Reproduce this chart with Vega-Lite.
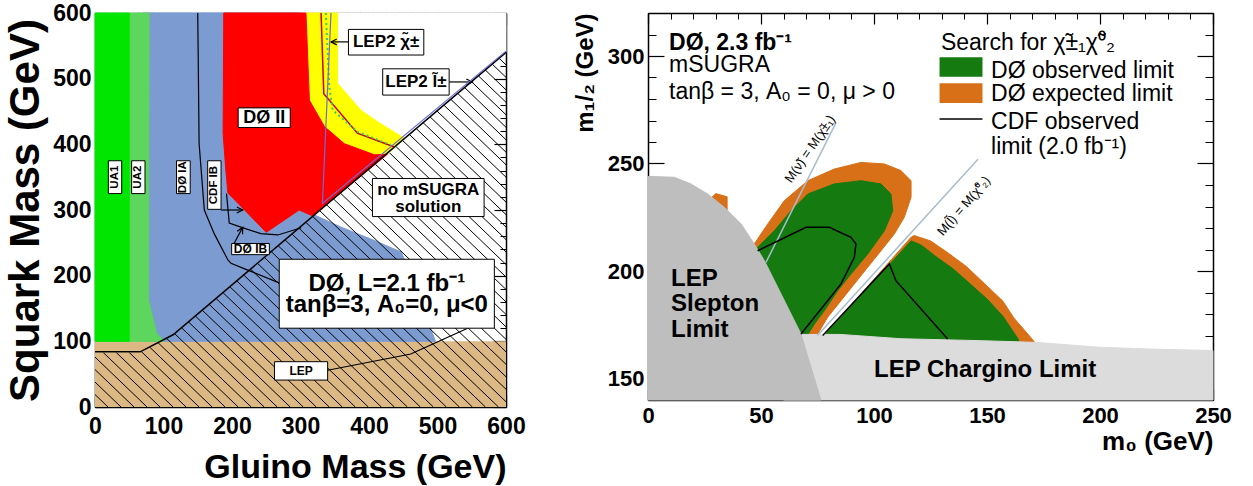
{
"$schema":"https://vega.github.io/schema/vega-lite/v6.json",
"padding":{"left":4,"top":2,"right":5,"bottom":5},
"background":"white",
"config":{"view":{"stroke":null},"axis":{"grid":false,"labelFont":"Liberation Sans","labelFontWeight":"bold","labelColor":"#000","titleFont":"Liberation Sans","titleFontWeight":"bold","titleColor":"#000","tickColor":"#000","domainColor":"#000","zindex":1,"labelOverlap":false,"labelFlush":false},"text":{"font":"Liberation Sans","color":"#000"}},
"datasets":{
"Lpoly":[
{"p":"blue","i":0,"x":70,"y":100},{"p":"blue","i":1,"x":70,"y":600},{"p":"blue","i":2,"x":300,"y":600},{"p":"blue","i":3,"x":300,"y":300},{"p":"blue","i":4,"x":315,"y":295},{"p":"blue","i":5,"x":359,"y":274},{"p":"blue","i":6,"x":407,"y":254},{"p":"blue","i":7,"x":447,"y":236},{"p":"blue","i":8,"x":470,"y":180},{"p":"blue","i":9,"x":490,"y":120},{"p":"blue","i":10,"x":497,"y":100},
{"p":"cover","i":0,"x":0,"y":84},{"p":"cover","i":1,"x":66,"y":84},{"p":"cover","i":2,"x":114,"y":110},{"p":"cover","i":3,"x":600,"y":540},{"p":"cover","i":4,"x":600,"y":600},{"p":"cover","i":5,"x":0,"y":600},
{"p":"tanstrip","i":0,"x":0,"y":84},{"p":"tanstrip","i":1,"x":66,"y":84},{"p":"tanstrip","i":2,"x":95.5,"y":100},{"p":"tanstrip","i":3,"x":0,"y":100},
{"p":"blueup","i":0,"x":70,"y":100},{"p":"blueup","i":1,"x":95.5,"y":100},{"p":"blueup","i":2,"x":114,"y":110},{"p":"blueup","i":3,"x":320,"y":292.6},{"p":"blueup","i":4,"x":315,"y":295},{"p":"blueup","i":5,"x":300,"y":300},{"p":"blueup","i":6,"x":300,"y":600},{"p":"blueup","i":7,"x":70,"y":600},
{"p":"lgreen","i":0,"x":50,"y":100},{"p":"lgreen","i":1,"x":50,"y":600},{"p":"lgreen","i":2,"x":79,"y":600},{"p":"lgreen","i":3,"x":78,"y":163},{"p":"lgreen","i":4,"x":90,"y":112},{"p":"lgreen","i":5,"x":97,"y":104.5},{"p":"lgreen","i":6,"x":101,"y":100},
{"p":"green","i":0,"x":0,"y":100},{"p":"green","i":1,"x":0,"y":600},{"p":"green","i":2,"x":50,"y":600},{"p":"green","i":3,"x":50,"y":100},
{"p":"yellow","i":0,"x":308,"y":600},{"p":"yellow","i":1,"x":354,"y":600},{"p":"yellow","i":2,"x":354,"y":493},{"p":"yellow","i":3,"x":388,"y":452},{"p":"yellow","i":4,"x":413,"y":434},{"p":"yellow","i":5,"x":452,"y":409},{"p":"yellow","i":6,"x":427,"y":385},{"p":"yellow","i":7,"x":408,"y":384},{"p":"yellow","i":8,"x":364,"y":401},{"p":"yellow","i":9,"x":335,"y":427},{"p":"yellow","i":10,"x":313,"y":467},
{"p":"red","i":0,"x":188,"y":600},{"p":"red","i":1,"x":308,"y":600},{"p":"red","i":2,"x":313,"y":467},{"p":"red","i":3,"x":335,"y":427},{"p":"red","i":4,"x":364,"y":401},{"p":"red","i":5,"x":408,"y":384},{"p":"red","i":6,"x":427,"y":385},{"p":"red","i":7,"x":318,"y":291},{"p":"red","i":8,"x":298,"y":300},{"p":"red","i":9,"x":250,"y":266},{"p":"red","i":10,"x":223,"y":295},{"p":"red","i":11,"x":194,"y":326},{"p":"red","i":12,"x":191,"y":361},{"p":"red","i":13,"x":187,"y":417}
],
"Lhatch":[
{"x":0,"y":19,"x2":19,"y2":0},{"x":0,"y":38,"x2":38,"y2":0},{"x":0,"y":57,"x2":57,"y2":0},{"x":0,"y":76,"x2":76,"y2":0},{"x":0,"y":95,"x2":95,"y2":0},{"x":0,"y":114,"x2":114,"y2":0},{"x":0,"y":133,"x2":133,"y2":0},{"x":0,"y":152,"x2":152,"y2":0},{"x":0,"y":171,"x2":171,"y2":0},{"x":0,"y":190,"x2":190,"y2":0},{"x":0,"y":209,"x2":209,"y2":0},{"x":0,"y":228,"x2":228,"y2":0},{"x":0,"y":247,"x2":247,"y2":0},{"x":0,"y":266,"x2":266,"y2":0},{"x":0,"y":285,"x2":285,"y2":0},{"x":0,"y":304,"x2":304,"y2":0},{"x":0,"y":323,"x2":323,"y2":0},{"x":0,"y":342,"x2":342,"y2":0},{"x":0,"y":361,"x2":361,"y2":0},{"x":0,"y":380,"x2":380,"y2":0},{"x":0,"y":399,"x2":399,"y2":0},{"x":0,"y":418,"x2":418,"y2":0},{"x":0,"y":437,"x2":437,"y2":0},{"x":0,"y":456,"x2":456,"y2":0},{"x":0,"y":475,"x2":475,"y2":0},{"x":0,"y":494,"x2":494,"y2":0},{"x":0,"y":513,"x2":513,"y2":0},{"x":0,"y":532,"x2":532,"y2":0},{"x":0,"y":551,"x2":551,"y2":0},{"x":0,"y":570,"x2":570,"y2":0},{"x":0,"y":589,"x2":589,"y2":0},
{"x":8,"y":600,"x2":600,"y2":8},{"x":27,"y":600,"x2":600,"y2":27},{"x":46,"y":600,"x2":600,"y2":46},{"x":65,"y":600,"x2":600,"y2":65},{"x":84,"y":600,"x2":600,"y2":84},{"x":103,"y":600,"x2":600,"y2":103},{"x":122,"y":600,"x2":600,"y2":122},{"x":141,"y":600,"x2":600,"y2":141},{"x":160,"y":600,"x2":600,"y2":160},{"x":179,"y":600,"x2":600,"y2":179},{"x":198,"y":600,"x2":600,"y2":198},{"x":217,"y":600,"x2":600,"y2":217},{"x":236,"y":600,"x2":600,"y2":236},{"x":255,"y":600,"x2":600,"y2":255},{"x":274,"y":600,"x2":600,"y2":274},{"x":293,"y":600,"x2":600,"y2":293},{"x":312,"y":600,"x2":600,"y2":312},{"x":331,"y":600,"x2":600,"y2":331},{"x":350,"y":600,"x2":600,"y2":350},{"x":369,"y":600,"x2":600,"y2":369},{"x":388,"y":600,"x2":600,"y2":388},{"x":407,"y":600,"x2":600,"y2":407},{"x":426,"y":600,"x2":600,"y2":426},{"x":445,"y":600,"x2":600,"y2":445},{"x":464,"y":600,"x2":600,"y2":464},{"x":483,"y":600,"x2":600,"y2":483},{"x":502,"y":600,"x2":600,"y2":502},{"x":521,"y":600,"x2":600,"y2":521},{"x":540,"y":600,"x2":600,"y2":540}
],
"Llines":[
{"l":"IA","i":0,"x":150,"y":600},{"l":"IA","i":1,"x":152,"y":401},{"l":"IA","i":2,"x":159.6,"y":300},{"l":"IA","i":3,"x":174,"y":264},{"l":"IA","i":4,"x":194,"y":224},{"l":"IA","i":5,"x":198.5,"y":219},{"l":"IA","i":6,"x":223,"y":208.5},{"l":"IA","i":7,"x":269,"y":189},
{"l":"IB","i":0,"x":192,"y":325},{"l":"IB","i":1,"x":196,"y":280},{"l":"IB","i":2,"x":213,"y":274},{"l":"IB","i":3,"x":242,"y":264},{"l":"IB","i":4,"x":267,"y":262},{"l":"IB","i":5,"x":301,"y":273},
{"l":"LEP","i":0,"x":339.6,"y":56},{"l":"LEP","i":1,"x":461,"y":80.7},{"l":"LEP","i":2,"x":544,"y":120},
{"l":"a1","i":0,"x":370,"y":556},{"l":"a1","i":1,"x":344.5,"y":556},
{"l":"a1b","i":0,"x":353,"y":560.5},{"l":"a1b","i":1,"x":344.5,"y":556},{"l":"a1b","i":2,"x":353,"y":551.5},
{"l":"a2","i":0,"x":517,"y":495},{"l":"a2","i":1,"x":551,"y":495},
{"l":"a2b","i":0,"x":542,"y":499.5},{"l":"a2b","i":1,"x":551,"y":495},{"l":"a2b","i":2,"x":542,"y":490.5},
{"l":"a3","i":0,"x":184,"y":300},{"l":"a3","i":1,"x":215.6,"y":300},
{"l":"a3b","i":0,"x":207,"y":304.5},{"l":"a3b","i":1,"x":215.6,"y":300},{"l":"a3b","i":2,"x":207,"y":295.5},
{"l":"a4","i":0,"x":203,"y":249},{"l":"a4","i":1,"x":215.6,"y":273.5},
{"l":"a4b","i":0,"x":215.4,"y":263.2},{"l":"a4b","i":1,"x":215.6,"y":273.5},{"l":"a4b","i":2,"x":207.6,"y":267.6}
],
"Lspecial":[
{"l":"bd","i":0,"x":0,"y":84},{"l":"bd","i":1,"x":66,"y":84},{"l":"bd","i":2,"x":114,"y":110},{"l":"bd","i":3,"x":600,"y":540},
{"l":"redline","i":0,"x":330,"y":600},{"l":"redline","i":1,"x":334,"y":477},{"l":"redline","i":2,"x":383,"y":417},{"l":"redline","i":3,"x":437,"y":396},
{"l":"gdot","i":0,"x":337,"y":600},{"l":"gdot","i":1,"x":342,"y":487.6},{"l":"gdot","i":2,"x":347,"y":452},{"l":"gdot","i":3,"x":383.5,"y":419},{"l":"gdot","i":4,"x":432,"y":399},
{"l":"purple","i":0,"x":344.5,"y":600},{"l":"purple","i":1,"x":332,"y":310},{"l":"purple","i":2,"x":600,"y":542}
],
"Rpoly":[
{"p":"oA","i":0,"x":47,"y":212.6},{"p":"oA","i":1,"x":53,"y":221.9},{"p":"oA","i":2,"x":60.3,"y":232.7},{"p":"oA","i":3,"x":70.7,"y":242},{"p":"oA","i":4,"x":82.4,"y":247.4},{"p":"oA","i":5,"x":94.2,"y":250.5},{"p":"oA","i":6,"x":104.6,"y":249.8},{"p":"oA","i":7,"x":111.9,"y":246.7},{"p":"oA","i":8,"x":116.4,"y":242},{"p":"oA","i":9,"x":116.4,"y":234.3},{"p":"oA","i":10,"x":113.4,"y":225},{"p":"oA","i":11,"x":109,"y":217.2},{"p":"oA","i":12,"x":103.1,"y":209.4},{"p":"oA","i":13,"x":97.2,"y":201.7},{"p":"oA","i":14,"x":91.3,"y":194},{"p":"oA","i":15,"x":85.4,"y":186.2},{"p":"oA","i":16,"x":79.5,"y":178.5},{"p":"oA","i":17,"x":75.1,"y":170.7},{"p":"oA","i":18,"x":60,"y":170},{"p":"oA","i":19,"x":50,"y":207},
{"p":"gA","i":0,"x":48.5,"y":211},{"p":"gA","i":1,"x":55.9,"y":218.7},{"p":"gA","i":2,"x":63.3,"y":228},{"p":"gA","i":3,"x":70.7,"y":235.8},{"p":"gA","i":4,"x":82.4,"y":240.5},{"p":"gA","i":5,"x":94.2,"y":242},{"p":"gA","i":6,"x":103.1,"y":240.5},{"p":"gA","i":7,"x":107.5,"y":235.8},{"p":"gA","i":8,"x":108.3,"y":228},{"p":"gA","i":9,"x":104.6,"y":218.7},{"p":"gA","i":10,"x":97.2,"y":207.9},{"p":"gA","i":11,"x":89.8,"y":198.6},{"p":"gA","i":12,"x":83.9,"y":190.8},{"p":"gA","i":13,"x":78,"y":181.5},{"p":"gA","i":14,"x":73.6,"y":175.3},{"p":"gA","i":15,"x":70.7,"y":170.5},{"p":"gA","i":16,"x":60,"y":170},{"p":"gA","i":17,"x":48,"y":205},
{"p":"oS","i":0,"x":27,"y":233},{"p":"oS","i":1,"x":30,"y":236},{"p":"oS","i":2,"x":35,"y":234.5},{"p":"oS","i":3,"x":35,"y":223},{"p":"oS","i":4,"x":32.5,"y":223},{"p":"oS","i":5,"x":27,"y":230},
{"p":"oB","i":0,"x":78,"y":170},{"p":"oB","i":1,"x":116.4,"y":215.7},{"p":"oB","i":2,"x":117.8,"y":216.5},{"p":"oB","i":3,"x":125,"y":214},{"p":"oB","i":4,"x":132,"y":209},{"p":"oB","i":5,"x":141,"y":202},{"p":"oB","i":6,"x":150,"y":193},{"p":"oB","i":7,"x":157,"y":186},{"p":"oB","i":8,"x":162,"y":178},{"p":"oB","i":9,"x":167,"y":172},{"p":"oB","i":10,"x":171,"y":167},{"p":"oB","i":11,"x":171,"y":160},{"p":"oB","i":12,"x":78,"y":160},
{"p":"gB","i":0,"x":78,"y":170},{"p":"gB","i":1,"x":116.4,"y":214},{"p":"gB","i":2,"x":121,"y":212},{"p":"gB","i":3,"x":127,"y":207},{"p":"gB","i":4,"x":135,"y":201},{"p":"gB","i":5,"x":142,"y":194.5},{"p":"gB","i":6,"x":150,"y":187},{"p":"gB","i":7,"x":157,"y":179},{"p":"gB","i":8,"x":164,"y":168},{"p":"gB","i":9,"x":164,"y":160},{"p":"gB","i":10,"x":78,"y":160},
{"p":"char","i":0,"x":60,"y":170.5},{"p":"char","i":1,"x":85,"y":170.5},{"p":"char","i":2,"x":112,"y":168.5},{"p":"char","i":3,"x":147,"y":167.6},{"p":"char","i":4,"x":172,"y":166.8},{"p":"char","i":5,"x":200,"y":164.5},{"p":"char","i":6,"x":222,"y":163.7},{"p":"char","i":7,"x":250,"y":163},{"p":"char","i":8,"x":250,"y":140},{"p":"char","i":9,"x":60,"y":140},
{"p":"slep","i":0,"x":0,"y":140},{"p":"slep","i":1,"x":0,"y":244},{"p":"slep","i":2,"x":11.6,"y":243.6},{"p":"slep","i":3,"x":19,"y":240.5},{"p":"slep","i":4,"x":26.4,"y":235.8},{"p":"slep","i":5,"x":33.8,"y":229.6},{"p":"slep","i":6,"x":41.2,"y":221.9},{"p":"slep","i":7,"x":47,"y":212.6},{"p":"slep","i":8,"x":51.5,"y":204.8},{"p":"slep","i":9,"x":57.4,"y":192.4},{"p":"slep","i":10,"x":63.3,"y":180},{"p":"slep","i":11,"x":67.7,"y":170.7},{"p":"slep","i":12,"x":72.1,"y":155.2},{"p":"slep","i":13,"x":76.5,"y":140}
],
"Rlines":[
{"l":"gb1","i":0,"x":83.2,"y":269},{"l":"gb1","i":1,"x":52.2,"y":204},
{"l":"gb2","i":0,"x":146,"y":252},{"l":"gb2","i":1,"x":75,"y":170},
{"l":"cA","i":0,"x":48.5,"y":209.4},{"l":"cA","i":1,"x":69.9,"y":220.3},{"l":"cA","i":2,"x":80.2,"y":220.3},{"l":"cA","i":3,"x":89.8,"y":215.7},{"l":"cA","i":4,"x":92,"y":212.6},{"l":"cA","i":5,"x":91.3,"y":206.4},{"l":"cA","i":6,"x":85.4,"y":194},{"l":"cA","i":7,"x":79.5,"y":186.2},{"l":"cA","i":8,"x":67.7,"y":170.7},
{"l":"cB","i":0,"x":77.3,"y":170},{"l":"cB","i":1,"x":106.8,"y":203.3},{"l":"cB","i":2,"x":109.7,"y":195.5},{"l":"cB","i":3,"x":132.6,"y":168.4}
]
},
"hconcat":[
{
"width":411,"height":394,
"resolve":{"axis":{"x":"independent","y":"independent"}},
"layer":[
{"data":{"values":[{"x":0,"x2":600,"y":0,"y2":100}]},"mark":{"type":"rect","fill":"#dcb884"},
 "encoding":{"x":{"field":"x","type":"quantitative","scale":{"domain":[0,600],"nice":false,"zero":false},"axis":{"orient":"bottom","values":[0,100,200,300,400,500,600],"ticks":false,"domain":false,"labelFontSize":23,"labelPadding":8,"title":"Gluino Mass (GeV)","titleFontSize":34,"titleAnchor":"end","titlePadding":12}},"x2":{"field":"x2"},
 "y":{"field":"y","type":"quantitative","scale":{"domain":[0,600],"nice":false,"zero":false},"axis":{"orient":"left","values":[0,100,200,300,400,500,600],"ticks":false,"domain":false,"labelFontSize":23,"labelPadding":4,"title":"Squark Mass (GeV)","titleFontSize":42,"titlePadding":5}},"y2":{"field":"y2"}}},
{"data":{"name":"Lpoly"},"transform":[{"filter":"datum.p=='blue'"}],"mark":{"type":"line","fill":"#7b9bd1","stroke":"#7b9bd1","strokeWidth":1,"interpolate":"linear-closed"},
 "encoding":{"x":{"field":"x","type":"quantitative","scale":{"domain":[0,600],"nice":false,"zero":false},"axis":{"orient":"bottom","values":[0,100,200,300,400,500,600],"labels":false,"title":null,"tickSize":-12,"tickWidth":1.2,"domainWidth":1.5}},
 "y":{"field":"y","type":"quantitative","scale":{"domain":[0,600],"nice":false,"zero":false},"axis":{"orient":"left","values":[0,100,200,300,400,500,600],"labels":false,"title":null,"tickSize":-12,"tickWidth":1.2,"domainWidth":1.5}},"order":{"field":"i","type":"quantitative"}}},
{"data":{"name":"Lhatch"},"mark":{"type":"rule","color":"#000","strokeWidth":1},
 "encoding":{"x":{"field":"x","type":"quantitative","scale":{"domain":[0,600],"nice":false,"zero":false},"axis":{"orient":"bottom","values":[0,20,40,60,80,100,120,140,160,180,200,220,240,260,280,300,320,340,360,380,400,420,440,460,480,500,520,540,560,580,600],"labels":false,"title":null,"tickSize":-6,"tickWidth":1,"domain":false}},"x2":{"field":"x2"},
 "y":{"field":"y","type":"quantitative","scale":{"domain":[0,600],"nice":false,"zero":false},"axis":{"orient":"left","values":[0,20,40,60,80,100,120,140,160,180,200,220,240,260,280,300,320,340,360,380,400,420,440,460,480,500,520,540,560,580,600],"labels":false,"title":null,"tickSize":-6,"tickWidth":1,"domain":false}},"y2":{"field":"y2"}}},
{"data":{"name":"Lpoly"},"transform":[{"filter":"datum.p=='cover'"}],"mark":{"type":"line","fill":"#ffffff","stroke":"#ffffff","strokeWidth":1,"interpolate":"linear-closed"},
 "encoding":{"x":{"field":"x","type":"quantitative","scale":{"domain":[0,600],"nice":false,"zero":false},"axis":{"orient":"top","values":[0,100,200,300,400,500,600],"labels":false,"title":null,"tickSize":-12,"tickWidth":1.2,"domainWidth":1.5}},
 "y":{"field":"y","type":"quantitative","scale":{"domain":[0,600],"nice":false,"zero":false},"axis":{"orient":"right","values":[0,100,200,300,400,500,600],"labels":false,"title":null,"tickSize":-12,"tickWidth":1.2,"domainWidth":1.5}},"order":{"field":"i","type":"quantitative"}}},
{"data":{"name":"Lpoly"},"transform":[{"filter":"datum.p=='tanstrip'"}],"mark":{"type":"line","fill":"#dcb884","stroke":"#dcb884","strokeWidth":1,"interpolate":"linear-closed"},
 "encoding":{"x":{"field":"x","type":"quantitative","scale":{"domain":[0,600],"nice":false,"zero":false},"axis":{"orient":"top","values":[0,20,40,60,80,100,120,140,160,180,200,220,240,260,280,300,320,340,360,380,400,420,440,460,480,500,520,540,560,580,600],"labels":false,"title":null,"tickSize":-6,"tickWidth":1,"domain":false}},
 "y":{"field":"y","type":"quantitative","scale":{"domain":[0,600],"nice":false,"zero":false},"axis":{"orient":"right","values":[0,20,40,60,80,100,120,140,160,180,200,220,240,260,280,300,320,340,360,380,400,420,440,460,480,500,520,540,560,580,600],"labels":false,"title":null,"tickSize":-6,"tickWidth":1,"domain":false}},"order":{"field":"i","type":"quantitative"}}},
{"data":{"name":"Lpoly"},"transform":[{"filter":"datum.p=='blueup'"}],"mark":{"type":"line","fill":"#7b9bd1","stroke":"#7b9bd1","strokeWidth":1,"interpolate":"linear-closed"},
 "encoding":{"x":{"field":"x","type":"quantitative","scale":{"domain":[0,600],"nice":false,"zero":false},"axis":null},"y":{"field":"y","type":"quantitative","scale":{"domain":[0,600],"nice":false,"zero":false},"axis":null},"order":{"field":"i","type":"quantitative"}}},
{"data":{"name":"Lpoly"},"transform":[{"filter":"datum.p=='lgreen'"}],"mark":{"type":"line","fill":"#5cd65c","stroke":"#5cd65c","strokeWidth":1,"interpolate":"linear-closed"},
 "encoding":{"x":{"field":"x","type":"quantitative","scale":{"domain":[0,600],"nice":false,"zero":false},"axis":null},"y":{"field":"y","type":"quantitative","scale":{"domain":[0,600],"nice":false,"zero":false},"axis":null},"order":{"field":"i","type":"quantitative"}}},
{"data":{"name":"Lpoly"},"transform":[{"filter":"datum.p=='green'"}],"mark":{"type":"line","fill":"#00e600","stroke":"#00e600","strokeWidth":1,"interpolate":"linear-closed"},
 "encoding":{"x":{"field":"x","type":"quantitative","scale":{"domain":[0,600],"nice":false,"zero":false},"axis":null},"y":{"field":"y","type":"quantitative","scale":{"domain":[0,600],"nice":false,"zero":false},"axis":null},"order":{"field":"i","type":"quantitative"}}},
{"data":{"name":"Lpoly"},"transform":[{"filter":"datum.p=='yellow'"}],"mark":{"type":"line","fill":"#ffff00","stroke":"#ffff00","strokeWidth":1,"interpolate":"linear-closed"},
 "encoding":{"x":{"field":"x","type":"quantitative","scale":{"domain":[0,600],"nice":false,"zero":false},"axis":null},"y":{"field":"y","type":"quantitative","scale":{"domain":[0,600],"nice":false,"zero":false},"axis":null},"order":{"field":"i","type":"quantitative"}}},
{"data":{"name":"Lpoly"},"transform":[{"filter":"datum.p=='red'"}],"mark":{"type":"line","fill":"#ff0000","stroke":"#ff0000","strokeWidth":1,"interpolate":"linear-closed"},
 "encoding":{"x":{"field":"x","type":"quantitative","scale":{"domain":[0,600],"nice":false,"zero":false},"axis":null},"y":{"field":"y","type":"quantitative","scale":{"domain":[0,600],"nice":false,"zero":false},"axis":null},"order":{"field":"i","type":"quantitative"}}},
{"data":{"name":"Llines"},"mark":{"type":"line","color":"#000","strokeWidth":1.2},
 "encoding":{"x":{"field":"x","type":"quantitative","scale":{"domain":[0,600],"nice":false,"zero":false},"axis":null},"y":{"field":"y","type":"quantitative","scale":{"domain":[0,600],"nice":false,"zero":false},"axis":null},"detail":{"field":"l"},"order":{"field":"i","type":"quantitative"}}},
{"data":{"name":"Lspecial"},"transform":[{"filter":"datum.l=='bd'"}],"mark":{"type":"line","color":"#000","strokeWidth":1.5},
 "encoding":{"x":{"field":"x","type":"quantitative","scale":{"domain":[0,600],"nice":false,"zero":false},"axis":null},"y":{"field":"y","type":"quantitative","scale":{"domain":[0,600],"nice":false,"zero":false},"axis":null},"order":{"field":"i","type":"quantitative"}}},
{"data":{"name":"Lspecial"},"transform":[{"filter":"datum.l=='redline'"}],"mark":{"type":"line","color":"#c80000","strokeWidth":1.5},
 "encoding":{"x":{"field":"x","type":"quantitative","scale":{"domain":[0,600],"nice":false,"zero":false},"axis":null},"y":{"field":"y","type":"quantitative","scale":{"domain":[0,600],"nice":false,"zero":false},"axis":null},"order":{"field":"i","type":"quantitative"}}},
{"data":{"name":"Lspecial"},"transform":[{"filter":"datum.l=='gdot'"}],"mark":{"type":"line","color":"#3cc878","strokeWidth":2,"strokeDash":[2,3]},
 "encoding":{"x":{"field":"x","type":"quantitative","scale":{"domain":[0,600],"nice":false,"zero":false},"axis":null},"y":{"field":"y","type":"quantitative","scale":{"domain":[0,600],"nice":false,"zero":false},"axis":null},"order":{"field":"i","type":"quantitative"}}},
{"data":{"name":"Lspecial"},"transform":[{"filter":"datum.l=='purple'"}],"mark":{"type":"line","color":"#6b6bdb","strokeWidth":1.2},
 "encoding":{"x":{"field":"x","type":"quantitative","scale":{"domain":[0,600],"nice":false,"zero":false},"axis":null},"y":{"field":"y","type":"quantitative","scale":{"domain":[0,600],"nice":false,"zero":false},"axis":null},"order":{"field":"i","type":"quantitative"}}},
{"data":{"values":[
 {"b":"UA1","x":19.5,"x2":39,"y":325,"y2":375},{"b":"UA2","x":53.5,"x2":73,"y":325,"y2":375},{"b":"IA","x":119,"x2":139,"y":325,"y2":375},{"b":"CDFIB","x":164.5,"x2":184,"y":301,"y2":375},{"b":"IB","x":199.5,"x2":254.5,"y":232,"y2":249},{"b":"II","x":209,"x2":285,"y":425.6,"y2":455.5},{"b":"LEP2c","x":370,"x2":480,"y":536,"y2":575},{"b":"LEP2l","x":420,"x2":517,"y":475,"y2":515},{"b":"nomsugra","x":405,"x2":568,"y":290,"y2":348},{"b":"big","x":269,"x2":583,"y":120,"y2":225},{"b":"LEP","x":262,"x2":339.6,"y":41,"y2":69}]},
 "mark":{"type":"rect","fill":"#ffffff","stroke":"#000","strokeWidth":1},
 "encoding":{"x":{"field":"x","type":"quantitative","scale":{"domain":[0,600],"nice":false,"zero":false},"axis":null},"x2":{"field":"x2"},"y":{"field":"y","type":"quantitative","scale":{"domain":[0,600],"nice":false,"zero":false},"axis":null},"y2":{"field":"y2"}}},
{"data":{"values":[{"t":"UA1","x":29.25,"y":350},{"t":"UA2","x":63.25,"y":350},{"t":"DØ IA","x":129,"y":350},{"t":"CDF IB","x":174.25,"y":338}]},
 "mark":{"type":"text","angle":270,"fontSize":11.5,"fontWeight":"bold","align":"center","baseline":"middle"},
 "encoding":{"x":{"field":"x","type":"quantitative","scale":{"domain":[0,600],"nice":false,"zero":false},"axis":null},"y":{"field":"y","type":"quantitative","scale":{"domain":[0,600],"nice":false,"zero":false},"axis":null},"text":{"field":"t","type":"nominal"}}},
{"data":{"values":[{"t":"DØ IB","x":227,"y":240.5},{"t":"LEP","x":300.8,"y":55}]},
 "mark":{"type":"text","fontSize":12,"fontWeight":"bold","align":"center","baseline":"middle"},
 "encoding":{"x":{"field":"x","type":"quantitative","scale":{"domain":[0,600],"nice":false,"zero":false},"axis":null},"y":{"field":"y","type":"quantitative","scale":{"domain":[0,600],"nice":false,"zero":false},"axis":null},"text":{"field":"t","type":"nominal"}}},
{"data":{"values":[{"t":"DØ II","x":247,"y":440.5}]},
 "mark":{"type":"text","fontSize":18,"fontWeight":"bold","align":"center","baseline":"middle"},
 "encoding":{"x":{"field":"x","type":"quantitative","scale":{"domain":[0,600],"nice":false,"zero":false},"axis":null},"y":{"field":"y","type":"quantitative","scale":{"domain":[0,600],"nice":false,"zero":false},"axis":null},"text":{"field":"t","type":"nominal"}}},
{"data":{"values":[{"t":"LEP2  χ̃±","x":425,"y":555.5},{"t":"LEP2  l̃±","x":468.5,"y":495},{"t":"no mSUGRA","x":486.5,"y":330},{"t":"solution","x":486.5,"y":305}]},
 "mark":{"type":"text","fontSize":17,"fontWeight":"bold","align":"center","baseline":"middle"},
 "encoding":{"x":{"field":"x","type":"quantitative","scale":{"domain":[0,600],"nice":false,"zero":false},"axis":null},"y":{"field":"y","type":"quantitative","scale":{"domain":[0,600],"nice":false,"zero":false},"axis":null},"text":{"field":"t","type":"nominal"}}},
{"data":{"values":[{"t":"DØ, L=2.1 fb⁻¹","x":426,"y":188},{"t":"tanβ=3, A₀=0, μ<0","x":426,"y":155}]},
 "mark":{"type":"text","fontSize":24,"fontWeight":"bold","align":"center","baseline":"middle"},
 "encoding":{"x":{"field":"x","type":"quantitative","scale":{"domain":[0,600],"nice":false,"zero":false},"axis":null},"y":{"field":"y","type":"quantitative","scale":{"domain":[0,600],"nice":false,"zero":false},"axis":null},"text":{"field":"t","type":"nominal"}}}
]
},
{
"width":565,"height":387,
"resolve":{"axis":{"x":"independent","y":"independent"}},
"layer":[
{"data":{"name":"Rpoly"},"transform":[{"filter":"datum.p=='oA'"}],"mark":{"type":"line","fill":"#d87018","stroke":"#d87018","strokeWidth":1,"interpolate":"linear-closed"},
 "encoding":{"x":{"field":"x","type":"quantitative","scale":{"domain":[0,250],"nice":false,"zero":false},"axis":{"orient":"bottom","values":[0,50,100,150,200,250],"ticks":false,"domain":false,"labelFontSize":22,"labelPadding":5,"title":"m₀ (GeV)","titleFontSize":26,"titleAnchor":"end","titlePadding":2}},
 "y":{"field":"y","type":"quantitative","scale":{"domain":[140,320],"nice":false,"zero":false},"axis":{"orient":"left","values":[150,200,250,300],"ticks":false,"domain":false,"labelFontSize":22,"labelPadding":4,"title":"m₁/₂ (GeV)","titleFontSize":24,"titleAnchor":"end","titlePadding":10}},"order":{"field":"i","type":"quantitative"}}},
{"data":{"name":"Rpoly"},"transform":[{"filter":"datum.p=='gA'"}],"mark":{"type":"line","fill":"#157a10","stroke":"#157a10","strokeWidth":1,"interpolate":"linear-closed"},
 "encoding":{"x":{"field":"x","type":"quantitative","scale":{"domain":[0,250],"nice":false,"zero":false},"axis":{"orient":"bottom","values":[0,50,100,150,200,250],"labels":false,"title":null,"tickSize":-11,"tickWidth":1.2,"domainWidth":1.5}},
 "y":{"field":"y","type":"quantitative","scale":{"domain":[140,320],"nice":false,"zero":false},"axis":{"orient":"left","values":[150,200,250,300],"labels":false,"title":null,"tickSize":-16,"tickWidth":1.2,"domainWidth":1.5}},"order":{"field":"i","type":"quantitative"}}},
{"data":{"name":"Rpoly"},"transform":[{"filter":"datum.p=='oS'"}],"mark":{"type":"line","fill":"#d87018","stroke":"#d87018","strokeWidth":1,"interpolate":"linear-closed"},
 "encoding":{"x":{"field":"x","type":"quantitative","scale":{"domain":[0,250],"nice":false,"zero":false},"axis":{"orient":"bottom","values":[0,10,20,30,40,50,60,70,80,90,100,110,120,130,140,150,160,170,180,190,200,210,220,230,240,250],"labels":false,"title":null,"tickSize":-6,"tickWidth":1,"domain":false}},
 "y":{"field":"y","type":"quantitative","scale":{"domain":[140,320],"nice":false,"zero":false},"axis":{"orient":"left","values":[140,150,160,170,180,190,200,210,220,230,240,250,260,270,280,290,300,310,320],"labels":false,"title":null,"tickSize":-8,"tickWidth":1,"domain":false}},"order":{"field":"i","type":"quantitative"}}},
{"data":{"name":"Rpoly"},"transform":[{"filter":"datum.p=='oB'"}],"mark":{"type":"line","fill":"#d87018","stroke":"#d87018","strokeWidth":1,"interpolate":"linear-closed"},
 "encoding":{"x":{"field":"x","type":"quantitative","scale":{"domain":[0,250],"nice":false,"zero":false},"axis":{"orient":"top","values":[0,50,100,150,200,250],"labels":false,"title":null,"tickSize":-11,"tickWidth":1.2,"domainWidth":1.5}},
 "y":{"field":"y","type":"quantitative","scale":{"domain":[140,320],"nice":false,"zero":false},"axis":{"orient":"right","values":[150,200,250,300],"labels":false,"title":null,"tickSize":-16,"tickWidth":1.2,"domainWidth":1.5}},"order":{"field":"i","type":"quantitative"}}},
{"data":{"name":"Rpoly"},"transform":[{"filter":"datum.p=='gB'"}],"mark":{"type":"line","fill":"#157a10","stroke":"#157a10","strokeWidth":1,"interpolate":"linear-closed"},
 "encoding":{"x":{"field":"x","type":"quantitative","scale":{"domain":[0,250],"nice":false,"zero":false},"axis":{"orient":"top","values":[0,10,20,30,40,50,60,70,80,90,100,110,120,130,140,150,160,170,180,190,200,210,220,230,240,250],"labels":false,"title":null,"tickSize":-6,"tickWidth":1,"domain":false}},
 "y":{"field":"y","type":"quantitative","scale":{"domain":[140,320],"nice":false,"zero":false},"axis":{"orient":"right","values":[140,150,160,170,180,190,200,210,220,230,240,250,260,270,280,290,300,310,320],"labels":false,"title":null,"tickSize":-8,"tickWidth":1,"domain":false}},"order":{"field":"i","type":"quantitative"}}},
{"data":{"name":"Rpoly"},"transform":[{"filter":"datum.p=='char'"}],"mark":{"type":"line","fill":"#dcdcdc","stroke":"#dcdcdc","strokeWidth":1,"interpolate":"linear-closed"},
 "encoding":{"x":{"field":"x","type":"quantitative","scale":{"domain":[0,250],"nice":false,"zero":false},"axis":null},"y":{"field":"y","type":"quantitative","scale":{"domain":[140,320],"nice":false,"zero":false},"axis":null},"order":{"field":"i","type":"quantitative"}}},
{"data":{"name":"Rpoly"},"transform":[{"filter":"datum.p=='slep'"}],"mark":{"type":"line","fill":"#bebebe","stroke":"#bebebe","strokeWidth":1,"interpolate":"linear-closed"},
 "encoding":{"x":{"field":"x","type":"quantitative","scale":{"domain":[0,250],"nice":false,"zero":false},"axis":null},"y":{"field":"y","type":"quantitative","scale":{"domain":[140,320],"nice":false,"zero":false},"axis":null},"order":{"field":"i","type":"quantitative"}}},
{"data":{"name":"Rlines"},"transform":[{"filter":"datum.l=='gb1' || datum.l=='gb2'"}],"mark":{"type":"line","color":"#a8bccc","strokeWidth":1.5},
 "encoding":{"x":{"field":"x","type":"quantitative","scale":{"domain":[0,250],"nice":false,"zero":false},"axis":null},"y":{"field":"y","type":"quantitative","scale":{"domain":[140,320],"nice":false,"zero":false},"axis":null},"detail":{"field":"l"},"order":{"field":"i","type":"quantitative"}}},
{"data":{"name":"Rlines"},"transform":[{"filter":"datum.l=='cA' || datum.l=='cB'"}],"mark":{"type":"line","color":"#000","strokeWidth":1.5},
 "encoding":{"x":{"field":"x","type":"quantitative","scale":{"domain":[0,250],"nice":false,"zero":false},"axis":null},"y":{"field":"y","type":"quantitative","scale":{"domain":[140,320],"nice":false,"zero":false},"axis":null},"detail":{"field":"l"},"order":{"field":"i","type":"quantitative"}}},
{"data":{"values":[{"k":"obs","x":129,"x2":148,"y":290.4,"y2":299.4},{"k":"exp","x":129,"x2":148,"y":278.1,"y2":287.3}]},
 "mark":{"type":"rect"},
 "encoding":{"x":{"field":"x","type":"quantitative","scale":{"domain":[0,250],"nice":false,"zero":false},"axis":null},"x2":{"field":"x2"},"y":{"field":"y","type":"quantitative","scale":{"domain":[140,320],"nice":false,"zero":false},"axis":null},"y2":{"field":"y2"},"color":{"field":"k","type":"nominal","scale":{"domain":["obs","exp"],"range":["#157a10","#d87018"]},"legend":null}}},
{"data":{"values":[{"x":129,"x2":148,"y":270.7}]},"mark":{"type":"rule","color":"#000","strokeWidth":1.5},
 "encoding":{"x":{"field":"x","type":"quantitative","scale":{"domain":[0,250],"nice":false,"zero":false},"axis":null},"x2":{"field":"x2"},"y":{"field":"y","type":"quantitative","scale":{"domain":[140,320],"nice":false,"zero":false},"axis":null}}},
{"data":{"values":[{"t":"DØ, 2.3 fb⁻¹","x":9.3,"y":302.8}]},
 "mark":{"type":"text","fontSize":23,"fontWeight":"bold","align":"left","baseline":"alphabetic"},
 "encoding":{"x":{"field":"x","type":"quantitative","scale":{"domain":[0,250],"nice":false,"zero":false},"axis":null},"y":{"field":"y","type":"quantitative","scale":{"domain":[140,320],"nice":false,"zero":false},"axis":null},"text":{"field":"t","type":"nominal"}}},
{"data":{"values":[{"t":"mSUGRA","x":9.3,"y":292.6},{"t":"tanβ = 3, A₀ = 0, μ > 0","x":9.3,"y":280},{"t":"Search for χ̃±₁χ̃⁰₂","x":129.6,"y":302.8},{"t":"DØ observed limit","x":151.8,"y":289.8},{"t":"DØ expected limit","x":151.8,"y":279.2},{"t":"CDF observed","x":151.8,"y":266},{"t":"limit (2.0 fb⁻¹)","x":151.8,"y":254.4}]},
 "mark":{"type":"text","fontSize":23,"align":"left","baseline":"alphabetic"},
 "encoding":{"x":{"field":"x","type":"quantitative","scale":{"domain":[0,250],"nice":false,"zero":false},"axis":null},"y":{"field":"y","type":"quantitative","scale":{"domain":[140,320],"nice":false,"zero":false},"axis":null},"text":{"field":"t","type":"nominal"}}},
{"data":{"values":[{"t":"LEP","x":10.2,"y":193.2},{"t":"Slepton","x":10.2,"y":181.4},{"t":"Limit","x":10.2,"y":169.4},{"t":"LEP Chargino Limit","x":100,"y":150.7}]},
 "mark":{"type":"text","fontSize":24,"fontWeight":"bold","align":"left","baseline":"alphabetic"},
 "encoding":{"x":{"field":"x","type":"quantitative","scale":{"domain":[0,250],"nice":false,"zero":false},"axis":null},"y":{"field":"y","type":"quantitative","scale":{"domain":[140,320],"nice":false,"zero":false},"axis":null},"text":{"field":"t","type":"nominal"}}},
{"data":{"values":[{"t":"M(ν̃) = M(χ̃±₁)","x":71.7,"y":256.7}]},
 "mark":{"type":"text","fontSize":13,"angle":304.4,"align":"center","baseline":"middle"},
 "encoding":{"x":{"field":"x","type":"quantitative","scale":{"domain":[0,250],"nice":false,"zero":false},"axis":null},"y":{"field":"y","type":"quantitative","scale":{"domain":[140,320],"nice":false,"zero":false},"axis":null},"text":{"field":"t","type":"nominal"}}},
{"data":{"values":[{"t":"M(l̃) = M(χ̃⁰₂)","x":139.8,"y":230.2}]},
 "mark":{"type":"text","fontSize":13,"angle":310.6,"align":"center","baseline":"middle"},
 "encoding":{"x":{"field":"x","type":"quantitative","scale":{"domain":[0,250],"nice":false,"zero":false},"axis":null},"y":{"field":"y","type":"quantitative","scale":{"domain":[140,320],"nice":false,"zero":false},"axis":null},"text":{"field":"t","type":"nominal"}}}
]
}
],
"spacing":142,
"bounds":"flush"
}
